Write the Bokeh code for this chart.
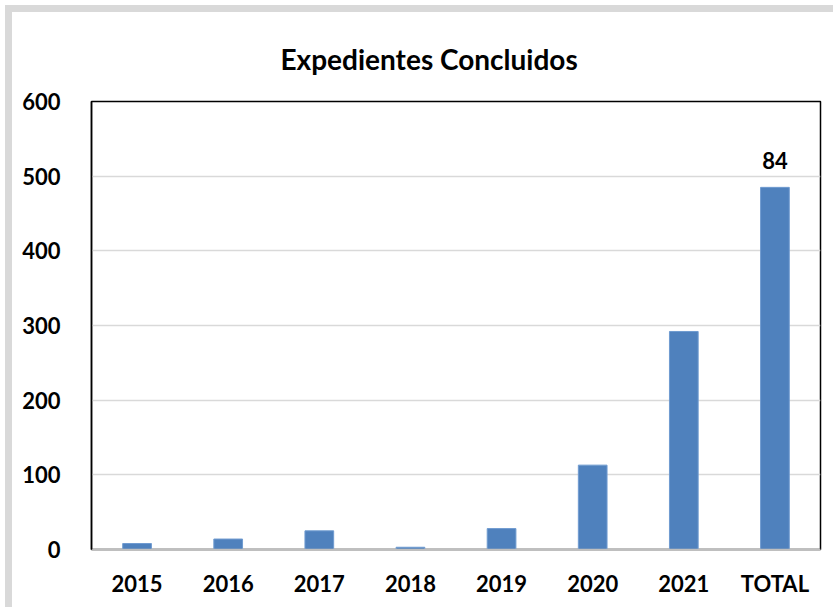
from bokeh.plotting import figure
from bokeh.models import ColumnDataSource, Range1d, FixedTicker, Title
from bokeh.core.properties import value
from bokeh.embed import file_html
from bokeh.resources import INLINE

categories = ["2015", "2016", "2017", "2018", "2019", "2020", "2021", "TOTAL"]
values = [8, 14, 25, 3, 28, 113, 292, 485]
total_label = ["", "", "", "", "", "", "", "84"]
y_ticks = [0, 100, 200, 300, 400, 500, 600]

FONT = "Lato"
BAR = "#4F81BD"

src = ColumnDataSource(dict(cat=categories, val=values, lab=total_label))

p = figure(x_range=categories, y_range=Range1d(0, 600),
           width=828, height=602, output_backend="svg", toolbar_location=None,
           min_border_left=79, min_border_right=20, min_border_top=89,
           min_border_bottom=65)
p.styles = {"border-left": "7px solid #d9d9d9", "border-top": "7px solid #d9d9d9",
            "margin-left": "5px", "margin-top": "5px"}

p.vbar(x="cat", top="val", width=0.315, source=src, fill_color=BAR,
       line_color="#6F9BD0", line_width=1)

p.text(x="cat", y="val", text="lab", source=src, text_align="center",
       text_baseline="alphabetic", y_offset=-27,
       text_font=value(FONT), text_font_style="bold", text_font_size="22px",
       text_color="black")

t = Title(text="Expedientes Concluidos", align="left", offset=189,
          text_font=FONT, text_font_style="bold", text_font_size="28px",
          text_color="black", standoff=51)
p.add_layout(t, "above")

p.outline_line_color = "black"
p.outline_line_width = 1.5
p.background_fill_color = "white"
p.border_fill_color = "white"

p.xgrid.grid_line_color = None
p.ygrid.grid_line_color = "#d9d9d9"
p.ygrid.grid_line_width = 1.5
p.yaxis.ticker = FixedTicker(ticks=y_ticks)

p.yaxis.axis_line_color = "black"
p.yaxis.axis_line_width = 1.5
p.yaxis.major_tick_line_color = None
p.yaxis.minor_tick_line_color = None
p.yaxis.major_label_standoff = 25
p.yaxis.major_label_text_font = FONT
p.yaxis.major_label_text_font_style = "bold"
p.yaxis.major_label_text_font_size = "22px"
p.yaxis.major_label_text_color = "black"

p.xaxis.axis_line_color = "#bfbfbf"
p.xaxis.axis_line_width = 1.5
p.xaxis.major_tick_line_color = None
p.xaxis.minor_tick_line_color = None
p.xaxis.major_label_standoff = 14
p.xaxis.major_label_text_font = FONT
p.xaxis.major_label_text_font_style = "bold"
p.xaxis.major_label_text_font_size = "22px"
p.xaxis.major_label_text_color = "black"

p.x_range.range_padding = 0

open("out.html", "w").write(file_html(p, INLINE))
